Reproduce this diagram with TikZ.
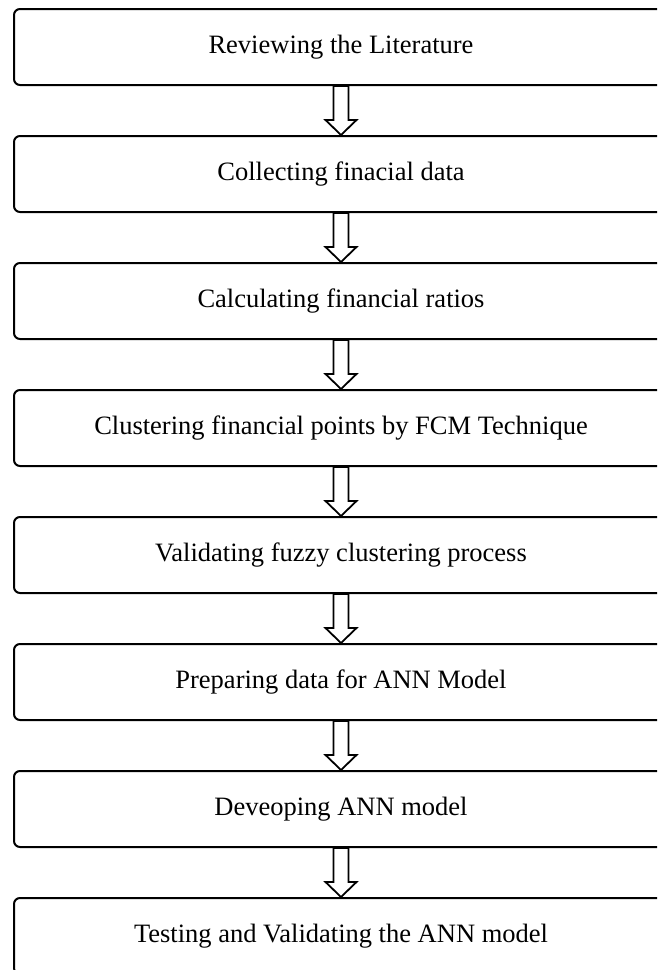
\documentclass[tikz,border=0pt]{standalone}
\usepackage{fontspec}
\setmainfont{Liberation Serif}
\usetikzlibrary{calc}
\tikzset{
  stagebox/.style={draw, line width=2pt, rounded corners=6pt, minimum width=654pt, minimum height=76pt, inner sep=0pt, font=\fontsize{26.5}{30}\selectfont},
  hollowarrow/.style={draw, line width=1.8pt, fill=white, line join=miter}
}

\begin{document}
\begin{tikzpicture}[x=1pt,y=1pt]

\useasboundingbox (0,0) rectangle (657,-970);
\clip (0,0) rectangle (657,-970);

% the stages, one under the other
\foreach \txt [count=\i] in {Reviewing the Literature, Collecting finacial data, Calculating financial ratios, Clustering financial points by FCM Technique, Validating fuzzy clustering process, Preparing data for ANN Model, Deveoping ANN model, Testing and Validating the ANN model}
  \node[stagebox] (s\i) at (341, {-47-127*(\i-1)}) {\txt};

% hollow arrows between stages
\foreach \i [evaluate=\i as \j using int(\i+1)] in {1,...,7}
  \draw[hollowarrow] ($(s\i.south)+(-7.5,0)$) -- ($(s\j.north)+(-7.5,15)$) -- ++(-8,0) -- (s\j.north) -- ++(15.5,15) -- ++(-8,0) -- ($(s\i.south)+(7.5,0)$) -- cycle;

\end{tikzpicture}
\end{document}
